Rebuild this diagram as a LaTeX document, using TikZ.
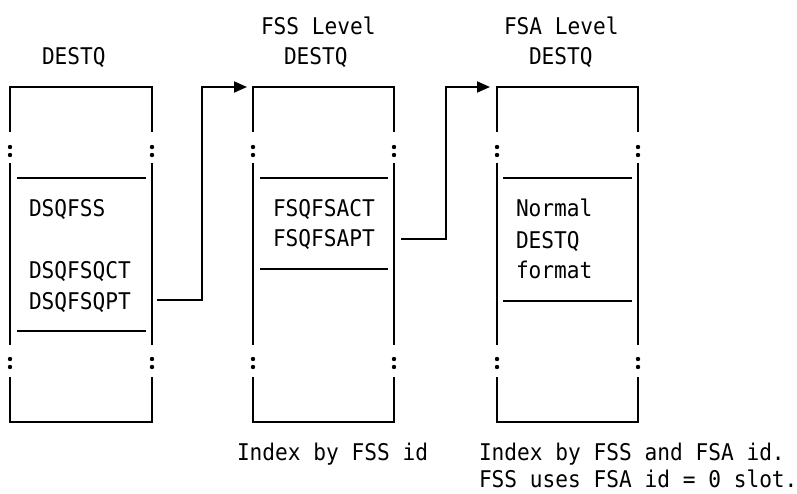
\documentclass[tikz,border=0pt]{standalone}
\usepackage{fontspec}
\usetikzlibrary{arrows.meta}
\newfontfamily\monofnt[FakeStretch=0.92]{DejaVu Sans Mono}
\tikzset{
  frame/.style={line width=1.8pt, black},
  inner/.style={line width=1.8pt, black},
  conn/.style={line width=1.8pt, black, -{Triangle[length=13pt,width=11pt]}},
  lbl/.style={anchor=base west, inner sep=0pt, outer sep=0pt, font=\monofnt\fontsize{23}{23}\selectfont},
  dot/.style={fill=black, draw=none}
}
\begin{document}
\begin{tikzpicture}[x=1pt,y=-1pt]
\useasboundingbox (0,0) rectangle (797,494);
% boxes: left/right edges
\foreach \L/\R in {10/152, 253/394, 497/638} {
  \draw[frame] (\L,132) -- (\L,87) -- (\R,87) -- (\R,132);
  \draw[frame] (\L,163) -- (\L,345);
  \draw[frame] (\R,163) -- (\R,345);
  \draw[frame] (\L,377) -- (\L,422) -- (\R,422) -- (\R,377);
  \foreach \X in {\L,\R} {
    \foreach \Y in {147,155,359,367} {
      \fill[dot] (\X,\Y) circle (2.2);
    }
  }
}
% inner separators
\draw[inner] (17,178) -- (146,178);
\draw[inner] (17,331) -- (146,331);
\draw[inner] (260,178) -- (388,178);
\draw[inner] (260,269) -- (388,269);
\draw[inner] (503,178) -- (632,178);
\draw[inner] (503,301) -- (632,301);
% headers
\node[lbl] (h1) at (42,65) {DESTQ};
\node[lbl] (h2a) at (261,35) {FSS Level};
\node[lbl] (h2b) at (284,65) {DESTQ};
\node[lbl] (h3a) at (504,35) {FSA Level};
\node[lbl] (h3b) at (529,65) {DESTQ};
% box contents
\node[lbl] (t1) at (29,217) {DSQFSS};
\node[lbl] (t2) at (29,278) {DSQFSQCT};
\node[lbl] (t3) at (29,309) {DSQFSQPT};
\node[lbl] (u1) at (273,217) {FSQFSACT};
\node[lbl] (u2) at (273,247) {FSQFSAPT};
\node[lbl] (v1) at (516,217) {Normal};
\node[lbl] (v2) at (516,248) {DESTQ};
\node[lbl] (v3) at (516,278) {format};
% footers
\node[lbl] (f1) at (237,460) {Index by FSS id};
\node[lbl] (f2) at (479,460) {Index by FSS and FSA id.};
\node[lbl] (f3) at (479,487) {FSS uses FSA id = 0 slot.};
% connectors
\coordinate (a1) at (157,300);
\coordinate (a2) at (202,300);
\coordinate (a3) at (202,87);
\coordinate (a4) at (247,87);
\coordinate (b1) at (401,239);
\coordinate (b2) at (446,239);
\coordinate (b3) at (446,87);
\coordinate (b4) at (490,87);
\draw[conn] (a1) -- (a2) -- (a3) -- (a4);
\draw[conn] (b1) -- (b2) -- (b3) -- (b4);
\end{tikzpicture}
\end{document}
